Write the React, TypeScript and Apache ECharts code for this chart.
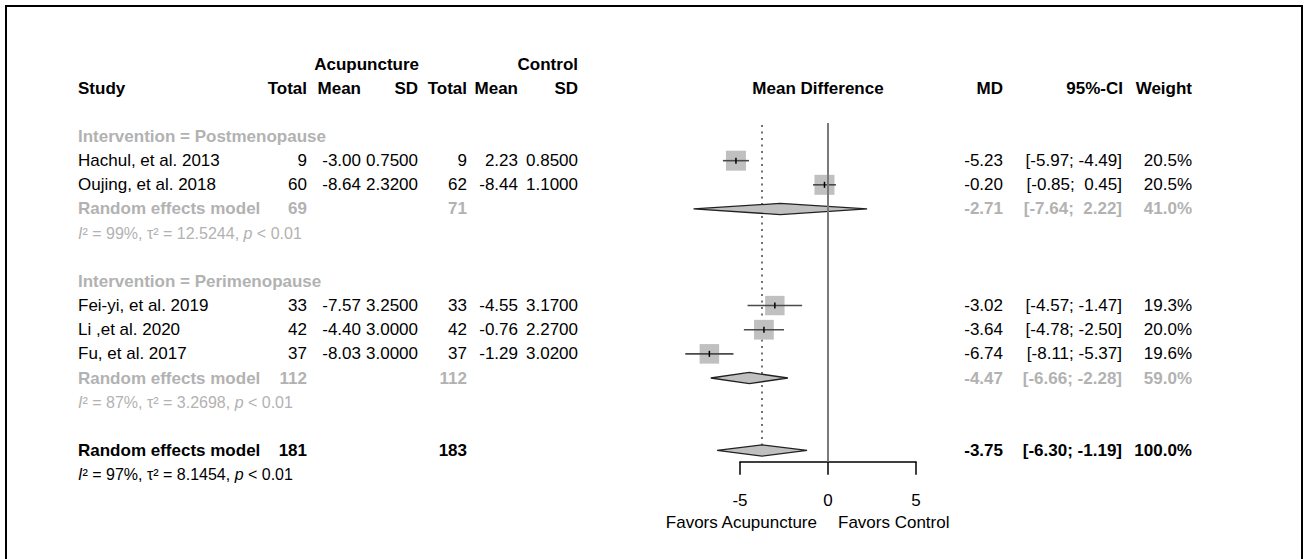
import React, { useEffect, useRef } from "react";
import * as echarts from "echarts";

// ---------- data ----------
const studies = ["Hachul, et al. 2013", "Oujing, et al. 2018", "Fei-yi, et al. 2019", "Li ,et al. 2020", "Fu, et al. 2017"];
const studyRow = [1, 2, 7, 8, 9];
const acTotal = [9, 60, 33, 42, 37];
const acMean = [-3.0, -8.64, -7.57, -4.4, -8.03];
const acSD = [0.75, 2.32, 3.25, 3.0, 3.0];
const ctTotal = [9, 62, 33, 42, 37];
const ctMean = [2.23, -8.44, -4.55, -0.76, -1.29];
const ctSD = [0.85, 1.1, 3.17, 2.27, 3.02];
const md = [-5.23, -0.2, -3.02, -3.64, -6.74];
const ciLow = [-5.97, -0.85, -4.57, -4.78, -8.11];
const ciHigh = [-4.49, 0.45, -1.47, -2.5, -5.37];
const weight = [20.5, 20.5, 19.3, 20.0, 19.6];

const groupLabels = ["Intervention = Postmenopause", "Intervention = Perimenopause"];
const groupHeaderRow = [0, 6];
const groupRow = [3, 10];
const groupHetRow = [4, 11];
const groupAcTotal = [69, 112];
const groupCtTotal = [71, 112];
const groupMD = [-2.71, -4.47];
const groupLow = [-7.64, -6.66];
const groupHigh = [2.22, -2.28];
const groupWeight = [41.0, 59.0];
const groupI2 = [99, 87];
const groupTau2 = ["12.5244", "3.2698"];
const groupP = ["< 0.01", "< 0.01"];

const overallRow = 13;
const overallHetRow = 14;
const overallAcTotal = 181;
const overallCtTotal = 183;
const overallMD = -3.75;
const overallLow = -6.3;
const overallHigh = -1.19;
const overallWeight = 100.0;
const overallI2 = 97;
const overallTau2 = "8.1454";
const overallP = "< 0.01";

const xTicks = [-5, 0, 5];
const labelLeft = "Favors Acupuncture";
const labelRight = "Favors Control";

// ---------- style ----------
const FONT = '"Liberation Sans", Arial, Helvetica, sans-serif';
const GRAY = "#b2b2b2";
const BLACK = "#000";
const FS = 17;
const HFS = 16;

const COL = {
  study: 78,
  acTotal: 307,
  acMean: 361,
  acSD: 418,
  ctTotal: 467,
  ctMean: 518,
  ctSD: 578,
  mdHead: 818,
  md: 1003,
  ci: 1122,
  w: 1192,
};

type Cell = { t: string; x: number; align: "left" | "right" | "center"; bold?: boolean; color?: string; size?: number; rich?: boolean };
type Row = { row: number; cells: Cell[] };

const f2 = (v: number) => v.toFixed(2);
const f4 = (v: number) => v.toFixed(4);
const pad = (v: number) => (v < 0 ? f2(v) : " " + f2(v));
const ci = (lo: number, hi: number) => `[${pad(lo)}; ${pad(hi)}]`;
const pct = (w: number) => w.toFixed(1) + "%";
const het = (i2: number, tau2: string, p: string) => `{it|I}² = ${i2}%, τ² = ${tau2}, {it|p} ${p}`;

const tableRows: Row[] = [];
tableRows.push({
  row: -3,
  cells: [
    { t: "Acupuncture", x: COL.acSD + 1, align: "right", bold: true },
    { t: "Control", x: COL.ctSD, align: "right", bold: true },
  ],
});
tableRows.push({
  row: -2,
  cells: [
    { t: "Study", x: COL.study, align: "left", bold: true },
    { t: "Total", x: COL.acTotal, align: "right", bold: true },
    { t: "Mean", x: COL.acMean, align: "right", bold: true },
    { t: "SD", x: COL.acSD, align: "right", bold: true },
    { t: "Total", x: COL.ctTotal, align: "right", bold: true },
    { t: "Mean", x: COL.ctMean, align: "right", bold: true },
    { t: "SD", x: COL.ctSD, align: "right", bold: true },
    { t: "Mean Difference", x: COL.mdHead, align: "center", bold: true },
    { t: "MD", x: COL.md, align: "right", bold: true },
    { t: "95%-CI", x: COL.ci + 1, align: "right", bold: true },
    { t: "Weight", x: COL.w, align: "right", bold: true },
  ],
});
groupLabels.forEach((g, gi) => {
  tableRows.push({ row: groupHeaderRow[gi], cells: [{ t: g, x: COL.study, align: "left", bold: true, color: GRAY }] });
  studies.forEach((s, i) => {
    if ((gi === 0 && i < 2) || (gi === 1 && i >= 2)) {
      tableRows.push({
        row: studyRow[i],
        cells: [
          { t: s, x: COL.study, align: "left" },
          { t: String(acTotal[i]), x: COL.acTotal, align: "right" },
          { t: f2(acMean[i]), x: COL.acMean, align: "right" },
          { t: f4(acSD[i]), x: COL.acSD, align: "right" },
          { t: String(ctTotal[i]), x: COL.ctTotal, align: "right" },
          { t: f2(ctMean[i]), x: COL.ctMean, align: "right" },
          { t: f4(ctSD[i]), x: COL.ctSD, align: "right" },
          { t: f2(md[i]), x: COL.md, align: "right" },
          { t: ci(ciLow[i], ciHigh[i]), x: COL.ci, align: "right" },
          { t: pct(weight[i]), x: COL.w, align: "right" },
        ],
      });
    }
  });
  tableRows.push({
    row: groupRow[gi],
    cells: [
      { t: "Random effects model", x: COL.study, align: "left", bold: true, color: GRAY },
      { t: String(groupAcTotal[gi]), x: COL.acTotal, align: "right", bold: true, color: GRAY },
      { t: String(groupCtTotal[gi]), x: COL.ctTotal, align: "right", bold: true, color: GRAY },
      { t: f2(groupMD[gi]), x: COL.md, align: "right", bold: true, color: GRAY },
      { t: ci(groupLow[gi], groupHigh[gi]), x: COL.ci, align: "right", bold: true, color: GRAY },
      { t: pct(groupWeight[gi]), x: COL.w, align: "right", bold: true, color: GRAY },
    ],
  });
  tableRows.push({
    row: groupHetRow[gi],
    cells: [{ t: het(groupI2[gi], groupTau2[gi], groupP[gi]), x: COL.study, align: "left", color: GRAY, size: HFS, rich: true }],
  });
});
tableRows.push({
  row: overallRow,
  cells: [
    { t: "Random effects model", x: COL.study, align: "left", bold: true },
    { t: String(overallAcTotal), x: COL.acTotal, align: "right", bold: true },
    { t: String(overallCtTotal), x: COL.ctTotal, align: "right", bold: true },
    { t: f2(overallMD), x: COL.md, align: "right", bold: true },
    { t: ci(overallLow, overallHigh), x: COL.ci, align: "right", bold: true },
    { t: pct(overallWeight), x: COL.w, align: "right", bold: true },
  ],
});
tableRows.push({
  row: overallHetRow,
  cells: [{ t: het(overallI2, overallTau2, overallP), x: COL.study, align: "left", size: HFS, rich: true }],
});

const diamondMD = [...groupMD, overallMD];
const diamondLow = [...groupLow, overallLow];
const diamondHigh = [...groupHigh, overallHigh];
const diamondRow = [...groupRow, overallRow];

const Y_MIN = -0.56;
const Y_MAX = 13.466;

function buildOption(): any {
  return {
    animation: false,
    backgroundColor: "#fff",
    grid: { left: 740, right: 393, top: 123, bottom: 97.3, containLabel: false },
    xAxis: {
      type: "value",
      min: -5,
      max: 5,
      interval: 5,
      axisLine: { show: true, onZero: false, lineStyle: { color: "#000", width: 1.5 } },
      axisTick: { show: true, inside: false, length: 13, lineStyle: { color: "#000", width: 1.5 } },
      axisLabel: { fontSize: FS, color: "#000", fontFamily: FONT, margin: 30, formatter: (v: number) => (xTicks.includes(v) ? String(v) : "") },
      splitLine: { show: false },
    },
    yAxis: { type: "value", inverse: true, min: Y_MIN, max: Y_MAX, show: false },
    graphic: [
      { type: "rect", shape: { x: 6, y: 6, width: 1296, height: 600 }, style: { fill: "none", stroke: "#000", lineWidth: 2 }, z: 0 },
      { type: "text", x: 817, y: 522, style: { text: labelLeft, fontSize: FS, fontFamily: FONT, fill: "#000", align: "right", verticalAlign: "middle" } },
      { type: "text", x: 838, y: 522, style: { text: labelRight, fontSize: FS, fontFamily: FONT, fill: "#000", align: "left", verticalAlign: "middle" } },
    ],
    series: [
      // dotted line at overall estimate
      {
        type: "custom",
        clip: false,
        silent: true,
        z: 1,
        data: [[overallMD, Y_MIN, overallRow]],
        renderItem: (_p: any, api: any) => {
          const a = api.coord([api.value(0), api.value(1)]);
          const b = api.coord([api.value(0), api.value(2)]);
          return { type: "line", shape: { x1: a[0], y1: a[1] + 2, x2: b[0], y2: b[1] }, style: { stroke: "#444", lineWidth: 1.5, lineDash: [2, 4.5] } };
        },
      },
      // diamonds
      {
        type: "custom",
        clip: false,
        silent: true,
        z: 2,
        data: diamondMD.map((m, i) => [m, diamondRow[i], diamondLow[i], diamondHigh[i]]),
        renderItem: (_p: any, api: any) => {
          const c = api.coord([api.value(0), api.value(1)]);
          const lo = api.coord([api.value(2), api.value(1)]);
          const hi = api.coord([api.value(3), api.value(1)]);
          const h = 5.6;
          return {
            type: "polygon",
            shape: { points: [[lo[0], c[1]], [c[0], c[1] - h], [hi[0], c[1]], [c[0], c[1] + h]] },
            style: { fill: "#c0c0c0", stroke: "#222", lineWidth: 1.3 },
          };
        },
      },
      // study squares + CI
      {
        type: "custom",
        clip: false,
        silent: true,
        z: 3,
        data: md.map((m, i) => [m, studyRow[i], ciLow[i], ciHigh[i], weight[i]]),
        renderItem: (_p: any, api: any) => {
          const c = api.coord([api.value(0), api.value(1)]);
          const lo = api.coord([api.value(2), api.value(1)]);
          const hi = api.coord([api.value(3), api.value(1)]);
          const s = 20 * Math.sqrt(api.value(4) / 20.5);
          return {
            type: "group",
            children: [
              { type: "rect", shape: { x: c[0] - s / 2, y: c[1] - s / 2, width: s, height: s }, style: { fill: "#c0c0c0" } },
              { type: "line", shape: { x1: lo[0], y1: c[1], x2: hi[0], y2: c[1] }, style: { stroke: "#4a4a4a", lineWidth: 1.6 } },
              { type: "line", shape: { x1: c[0], y1: c[1] - 3, x2: c[0], y2: c[1] + 3 }, style: { stroke: "#000", lineWidth: 1.5 } },
            ],
          };
        },
      },
      // zero line
      {
        type: "custom",
        clip: false,
        silent: true,
        z: 4,
        data: [[0, Y_MIN, Y_MAX]],
        renderItem: (_p: any, api: any) => {
          const a = api.coord([api.value(0), api.value(1)]);
          const b = api.coord([api.value(0), api.value(2)]);
          return { type: "line", shape: { x1: a[0], y1: a[1], x2: b[0], y2: b[1] }, style: { stroke: "#7a7a7a", lineWidth: 2 } };
        },
      },
      // table texts
      {
        type: "custom",
        clip: false,
        silent: true,
        z: 5,
        data: tableRows.map((r) => [0, r.row]),
        renderItem: (p: any, api: any) => {
          const r = tableRows[p.dataIndex];
          const y = api.coord([0, api.value(1)])[1];
          return {
            type: "group",
            children: r.cells.map((c) => ({
              type: "text",
              style: {
                text: c.t,
                x: c.x,
                y,
                fill: c.color || BLACK,
                fontSize: c.size || FS,
                fontWeight: c.bold ? "bold" : "normal",
                fontFamily: FONT,
                align: c.align,
                verticalAlign: "middle",
                rich: c.rich ? { it: { fontStyle: "italic", fontSize: c.size || FS, fontFamily: FONT } } : undefined,
              },
            })),
          };
        },
      },
    ],
  };
}

export default function App() {
  const ref = useRef<HTMLDivElement>(null);
  useEffect(() => {
    const chart = echarts.init(ref.current!, null, { renderer: "svg" });
    chart.setOption(buildOption());
    return () => chart.dispose();
  }, []);
  return <div ref={ref} style={{ position: "fixed", left: 0, top: 0, width: 1309, height: 559, background: "#fff" }} />;
}
